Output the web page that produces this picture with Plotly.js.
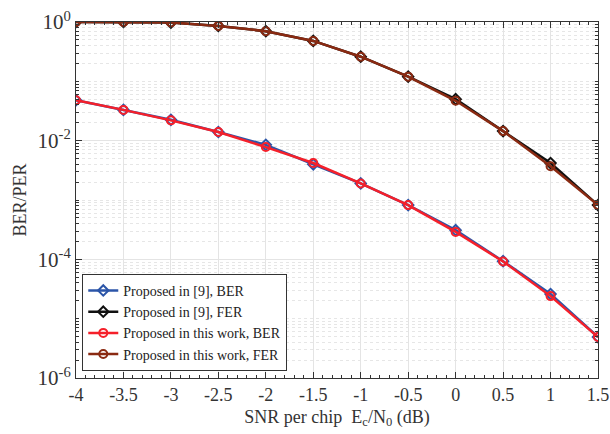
<!DOCTYPE html>
<html><head><meta charset="utf-8">
<script src="https://cdn.plot.ly/plotly-3.0.1.min.js"></script>
<style>html,body{margin:0;padding:0;background:#fff}#chart{width:610px;height:434px}</style>
</head><body><div id="chart"></div>
<script>
var snr = [-4,-3.5,-3,-2.5,-2,-1.5,-1,-0.5,0,0.5,1,1.5];
var berRef9 = [0.048,0.033,0.0225,0.014,0.0085,0.0040,0.0019,0.00082,0.00031,0.000093,0.000026,0.0000049];
var ferRef9 = [1.0,1.0,0.98,0.86,0.70,0.48,0.26,0.12,0.050,0.0145,0.0042,0.00082];
var berThis = [0.048,0.033,0.022,0.014,0.0078,0.0042,0.0019,0.00082,0.00029,0.000092,0.000024,0.0000049];
var ferThis = [1.0,1.0,0.98,0.86,0.70,0.48,0.26,0.12,0.047,0.0145,0.0037,0.00082];
var seriesNames = ['Proposed in [9], BER','Proposed in [9], FER','Proposed in this work, BER','Proposed in this work, FER'];
var yTickVals = [1,0.01,0.0001,0.000001];
var yTickText = ['10<sup>0</sup>','10<sup>-2</sup>','10<sup>-4</sup>','10<sup>-6</sup>'];
var xTickVals = [-4,-3.5,-3,-2.5,-2,-1.5,-1,-0.5,0,0.5,1,1.5];
var xTickText = ['-4','-3.5','-3','-2.5','-2','-1.5','-1','-0.5','0','0.5','1','1.5'];

var minorY = [];
for (var d=-6; d<0; d++) { for (var k=1;k<10;k++){ minorY.push(k*Math.pow(10,d)); } }

var FAM = '"Liberation Serif", "Times New Roman", Times, serif';
function tr(y, name, color, symbol, size){
  return {x: snr, y: y, name: name, type:'scatter', mode:'lines+markers',
    line:{color:color, width:2.5},
    marker:{symbol:symbol, size:size, color:color, line:{color:color, width:2}}};
}
var data = [
  tr(berRef9, seriesNames[0], '#2b55a8', 'diamond-open', 8),
  tr(ferRef9, seriesNames[1], '#111111', 'diamond-open', 8),
  tr(berThis, seriesNames[2], '#f5202a', 'circle-open', 8),
  tr(ferThis, seriesNames[3], '#8a2a12', 'circle-open', 8)
];
var layout = {
  width:610, height:434,
  margin:{l:76, r:12, t:22, b:56},
  paper_bgcolor:'#fff', plot_bgcolor:'#fff',
  font:{family:FAM, color:'#333', size:16},
  showlegend:true,
  legend:{x:0.012, y:0.02, xanchor:'left', yanchor:'bottom', bordercolor:'#333', borderwidth:1,
    bgcolor:'#fff', font:{family:FAM, size:14, color:'#222'}, tracegroupgap:0},
  xaxis:{range:[-4,1.5], tickvals:xTickVals, ticktext:xTickText, showline:true, linecolor:'#333', linewidth:1,
    mirror:'allticks', ticks:'inside', ticklen:6, tickcolor:'#333',
    showgrid:true, gridcolor:'#e4e4e4', gridwidth:1, zeroline:false,
    minor:{dtick:0.1, ticks:'inside', ticklen:3, tickcolor:'#333', showgrid:false},
    tickfont:{family:FAM, size:18, color:'#333'},
    title:{text:'SNR per chip  E<sub>c</sub>/N<sub>0</sub> (dB)', font:{family:FAM, size:18, color:'#333'}, standoff:6}},
  yaxis:{type:'log', range:[-6,0], tickvals:yTickVals, ticktext:yTickText, showline:true, linecolor:'#333', linewidth:1,
    mirror:'allticks', ticks:'inside', ticklen:6, tickcolor:'#333',
    showgrid:true, gridcolor:'#e4e4e4', gridwidth:1, zeroline:false,
    minor:{tickvals:minorY, ticks:'inside', ticklen:3, tickcolor:'#333', showgrid:true, gridcolor:'#e6e6e6', griddash:'dot', gridwidth:1},
    tickfont:{family:FAM, size:21, color:'#333'},
    title:{text:'BER/PER', font:{family:FAM, size:18, color:'#333'}, standoff:6}}
};
Plotly.newPlot('chart', data, layout, {displayModeBar:false, staticPlot:true});
</script></body></html>
